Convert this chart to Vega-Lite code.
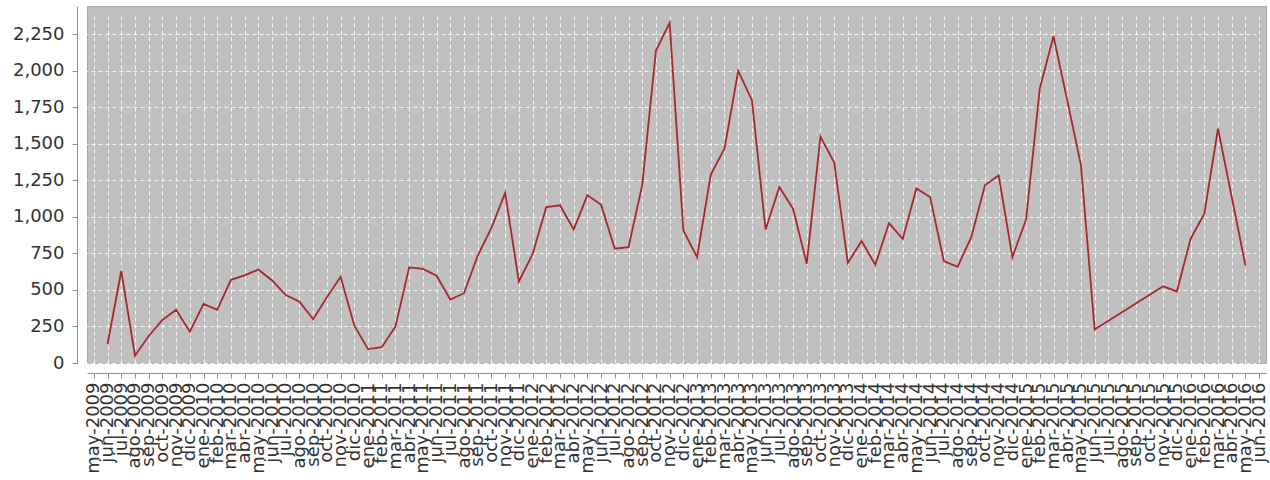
{
  "$schema": "https://vega.github.io/schema/vega-lite/v6.json",
  "width": 1179,
  "height": 357,
  "autosize": {"type": "none"},
  "padding": {"left": 87, "top": 6, "right": 4, "bottom": 117},
  "background": "white",
  "config": {
    "view": {"fill": "#c0c0c0", "stroke": "#a8a8a8", "strokeWidth": 1},
    "axis": {
      "labelFont": "DejaVu Sans",
      "labelFontSize": 18,
      "labelColor": "#333333",
      "domainColor": "#909090",
      "tickColor": "#909090",
      "tickSize": 5,
      "gridColor": "#ffffff",
      "gridDash": [4, 3],
      "gridOpacity": 0.85,
      "gridWidth": 1,
      "offset": 10,
      "title": null
    }
  },
  "data": {
    "values": [
      {"mes": "jun-2009", "valor": 130},
      {"mes": "jul-2009", "valor": 630},
      {"mes": "ago-2009", "valor": 50},
      {"mes": "sep-2009", "valor": 185},
      {"mes": "oct-2009", "valor": 295},
      {"mes": "nov-2009", "valor": 365},
      {"mes": "dic-2009", "valor": 215},
      {"mes": "ene-2010", "valor": 405},
      {"mes": "feb-2010", "valor": 365},
      {"mes": "mar-2010", "valor": 570},
      {"mes": "abr-2010", "valor": 600},
      {"mes": "may-2010", "valor": 640},
      {"mes": "jun-2010", "valor": 565},
      {"mes": "jul-2010", "valor": 465},
      {"mes": "ago-2010", "valor": 420},
      {"mes": "sep-2010", "valor": 300},
      {"mes": "oct-2010", "valor": 450},
      {"mes": "nov-2010", "valor": 590},
      {"mes": "dic-2010", "valor": 255},
      {"mes": "ene-2011", "valor": 95},
      {"mes": "feb-2011", "valor": 108},
      {"mes": "mar-2011", "valor": 250},
      {"mes": "abr-2011", "valor": 655},
      {"mes": "may-2011", "valor": 645},
      {"mes": "jun-2011", "valor": 598},
      {"mes": "jul-2011", "valor": 435},
      {"mes": "ago-2011", "valor": 478},
      {"mes": "sep-2011", "valor": 735},
      {"mes": "oct-2011", "valor": 925},
      {"mes": "nov-2011", "valor": 1165},
      {"mes": "dic-2011", "valor": 558},
      {"mes": "ene-2012", "valor": 745},
      {"mes": "feb-2012", "valor": 1068},
      {"mes": "mar-2012", "valor": 1080},
      {"mes": "abr-2012", "valor": 915},
      {"mes": "may-2012", "valor": 1150},
      {"mes": "jun-2012", "valor": 1083},
      {"mes": "jul-2012", "valor": 783},
      {"mes": "ago-2012", "valor": 793},
      {"mes": "sep-2012", "valor": 1220},
      {"mes": "oct-2012", "valor": 2140},
      {"mes": "nov-2012", "valor": 2330},
      {"mes": "dic-2012", "valor": 908},
      {"mes": "ene-2013", "valor": 725},
      {"mes": "feb-2013", "valor": 1290},
      {"mes": "mar-2013", "valor": 1468},
      {"mes": "abr-2013", "valor": 2000},
      {"mes": "may-2013", "valor": 1800},
      {"mes": "jun-2013", "valor": 913},
      {"mes": "jul-2013", "valor": 1205},
      {"mes": "ago-2013", "valor": 1057},
      {"mes": "sep-2013", "valor": 680},
      {"mes": "oct-2013", "valor": 1550},
      {"mes": "nov-2013", "valor": 1375},
      {"mes": "dic-2013", "valor": 685},
      {"mes": "ene-2014", "valor": 835},
      {"mes": "feb-2014", "valor": 673},
      {"mes": "mar-2014", "valor": 958},
      {"mes": "abr-2014", "valor": 850},
      {"mes": "may-2014", "valor": 1195},
      {"mes": "jun-2014", "valor": 1137},
      {"mes": "jul-2014", "valor": 698},
      {"mes": "ago-2014", "valor": 658},
      {"mes": "sep-2014", "valor": 862},
      {"mes": "oct-2014", "valor": 1217},
      {"mes": "nov-2014", "valor": 1285},
      {"mes": "dic-2014", "valor": 725},
      {"mes": "ene-2015", "valor": 982},
      {"mes": "feb-2015", "valor": 1880},
      {"mes": "mar-2015", "valor": 2238},
      {"mes": "abr-2015", "valor": 1800},
      {"mes": "may-2015", "valor": 1355},
      {"mes": "jun-2015", "valor": 230},
      {"mes": "nov-2015", "valor": 525},
      {"mes": "dic-2015", "valor": 490},
      {"mes": "ene-2016", "valor": 850},
      {"mes": "feb-2016", "valor": 1023},
      {"mes": "mar-2016", "valor": 1605},
      {"mes": "abr-2016", "valor": 1137},
      {"mes": "may-2016", "valor": 668}
    ]
  },
  "mark": {"type": "line", "color": "#a8262e", "strokeWidth": 1.8},
  "encoding": {
    "x": {
      "field": "mes",
      "type": "ordinal",
      "sort": null,
      "scale": {
        "type": "point",
        "padding": 0.5,
        "domain": [
          "may-2009", "jun-2009", "jul-2009", "ago-2009", "sep-2009", "oct-2009", "nov-2009", "dic-2009",
          "ene-2010", "feb-2010", "mar-2010", "abr-2010", "may-2010", "jun-2010", "jul-2010", "ago-2010", "sep-2010", "oct-2010", "nov-2010", "dic-2010",
          "ene-2011", "feb-2011", "mar-2011", "abr-2011", "may-2011", "jun-2011", "jul-2011", "ago-2011", "sep-2011", "oct-2011", "nov-2011", "dic-2011",
          "ene-2012", "feb-2012", "mar-2012", "abr-2012", "may-2012", "jun-2012", "jul-2012", "ago-2012", "sep-2012", "oct-2012", "nov-2012", "dic-2012",
          "ene-2013", "feb-2013", "mar-2013", "abr-2013", "may-2013", "jun-2013", "jul-2013", "ago-2013", "sep-2013", "oct-2013", "nov-2013", "dic-2013",
          "ene-2014", "feb-2014", "mar-2014", "abr-2014", "may-2014", "jun-2014", "jul-2014", "ago-2014", "sep-2014", "oct-2014", "nov-2014", "dic-2014",
          "ene-2015", "feb-2015", "mar-2015", "abr-2015", "may-2015", "jun-2015", "jul-2015", "ago-2015", "sep-2015", "oct-2015", "nov-2015", "dic-2015",
          "ene-2016", "feb-2016", "mar-2016", "abr-2016", "may-2016", "jun-2016"
        ]
      },
      "axis": {
        "labelAngle": -90,
        "labelPadding": 4,
        "labelOverlap": false,
        "labelBound": false,
        "grid": true
      }
    },
    "y": {
      "field": "valor",
      "type": "quantitative",
      "scale": {"domain": [0, 2445], "nice": false, "zero": true},
      "axis": {
        "values": [0, 250, 500, 750, 1000, 1250, 1500, 1750, 2000, 2250],
        "format": ",.0f",
        "labelPadding": 8,
        "grid": true
      }
    },
    "order": {"value": null}
  }
}
